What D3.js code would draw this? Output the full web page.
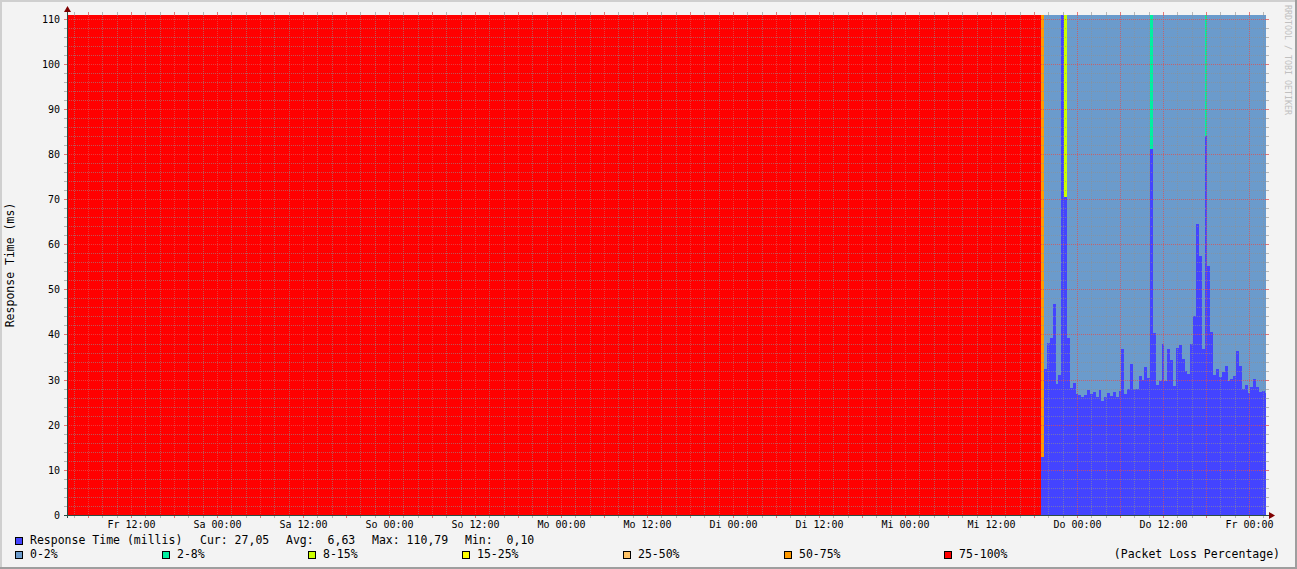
<!DOCTYPE html>
<html><head><meta charset="utf-8">
<script src="https://cdn.jsdelivr.net/npm/d3@7"></script>
<style>html,body{margin:0;padding:0;background:#f3f3f3;}svg{display:block;}text{white-space:pre;}</style>
</head><body>
<script>
// ---- data ----
const lossClasses = ["0-2%","2-8%","8-15%","15-25%","25-50%","50-75%","75-100%"];
const lossColors  = ["#6b9bcc","#00f0a0","#ccff00","#ffff00","#ffc468","#ff9900","#ff0000"];
const rttColor = "#4444ff";
// time in hours since Fr 00:00 of the first day
const outage = [{from: 3.07, to: 139.0, loss: 6}];
const firstStart = 139.0;
const stepHours = 0.4;
const rtt = [12.9,32.4,38.1,39.3,46.8,29.1,31.0,110.79,70.4,39.3,
  28.2,29.3,26.8,26.6,26.2,26.6,27.7,26.8,27.3,26.2,
  27.7,25.3,26.2,27.1,26.4,27.3,26.2,27.5,36.8,26.8,
  27.9,33.5,27.9,28.0,30.8,29.9,32.8,30.4,81.0,40.4,
  28.8,29.7,37.9,29.7,36.8,34.4,28.6,37.0,37.7,34.6,
  31.9,31.3,37.9,44.1,64.5,57.4,36.8,84.0,55.2,40.6,
  31.0,32.4,30.6,31.7,33.0,29.7,30.2,30.8,36.4,33.0,
  27.9,28.8,27.1,28.4,30.2,28.4,27.3,27.5,27.05];
const loss = rtt.map(()=>0);
const lossOverrides = [[0,5],[8,2],[38,1],[57,1]];
lossOverrides.forEach(([i,c])=>loss[i]=c);
const xTickHours = [12,24,36,48,60,72,84,96,108,120,132,144,156,168];
const xTickLabels = ["Fr 12:00","Sa 00:00","Sa 12:00","So 00:00","So 12:00","Mo 00:00","Mo 12:00",
  "Di 00:00","Di 12:00","Mi 00:00","Mi 12:00","Do 00:00","Do 12:00","Fr 00:00"];
const yTickValues = [0,10,20,30,40,50,60,70,80,90,100,110];
const statLabels = ["Cur: 27,05","Avg:  6,63","Max: 110,79","Min:  0,10"];

// ---- layout ----
const W = 1297, H = 569;
const L = 67, R = 1266, T = 15, B = 515;
const x = d3.scaleLinear().domain([3.07, 170.37]).range([L, R]);
const y = d3.scaleLinear().domain([0, 110.79]).range([B, T]);
const mono = "'DejaVu Sans Mono', monospace";

const svg = d3.select("body").append("svg").attr("width", W).attr("height", H);
svg.append("rect").attr("width", W).attr("height", H).attr("fill", "#f3f3f3");
svg.append("rect").attr("x",0).attr("y",0).attr("width",W).attr("height",2).attr("fill","#cfcfcf");
svg.append("rect").attr("x",0).attr("y",0).attr("width",2).attr("height",H).attr("fill","#cfcfcf");
svg.append("rect").attr("x",0).attr("y",H-2).attr("width",W).attr("height",2).attr("fill","#9e9e9e");
svg.append("rect").attr("x",W-2).attr("y",0).attr("width",2).attr("height",H).attr("fill","#9e9e9e");

const plot = svg.append("g").attr("shape-rendering","crispEdges");
// outage (loss only, no rtt)
plot.selectAll("rect.out").data(outage).join("rect").attr("class","out")
  .attr("x", d=>Math.round(x(d.from))).attr("width", d=>Math.round(x(d.to))-Math.round(x(d.from)))
  .attr("y", T).attr("height", B-T).attr("fill", d=>lossColors[d.loss]);

const bars = rtt.map((v,i)=>({start:firstStart+i*stepHours, end:Math.min(firstStart+(i+1)*stepHours, x.domain()[1]), v, loss:loss[i]}));
const bx0 = d=>Math.round(x(d.start)), bx1 = d=>Math.round(x(d.end));
plot.selectAll("rect.loss").data(bars).join("rect").attr("class","loss")
  .attr("x", bx0).attr("width", d=>bx1(d)-bx0(d))
  .attr("y", T).attr("height", d=>Math.max(0, Math.round(y(d.v))-T))
  .attr("fill", d=>lossColors[d.loss]);
plot.selectAll("rect.rtt").data(bars).join("rect").attr("class","rtt")
  .attr("x", bx0).attr("width", d=>bx1(d)-bx0(d))
  .attr("y", d=>Math.round(y(d.v))).attr("height", d=>B-Math.round(y(d.v)))
  .attr("fill", rttColor);

// grid
const gridC = "#8f8f8f", mgridC = "#de5050";
const g = svg.append("g").attr("shape-rendering","crispEdges");
const yMinor = d3.range(0, 111, 2).filter(v=>v%10!==0);
const xMinor = d3.range(4, 171, 2).filter(h=>h%6!==0);
const xMajor = d3.range(6, 171, 6);
function hline(v, c, op){
  const yy = Math.round(y(v))+0.5;
  g.append("line").attr("x1",L).attr("x2",R).attr("y1",yy).attr("y2",yy)
    .attr("stroke",c).attr("stroke-opacity",op).attr("stroke-dasharray","1,1");
  g.append("line").attr("x1",L-3).attr("x2",L).attr("y1",yy).attr("y2",yy).attr("stroke",c).attr("stroke-opacity",op);
  g.append("line").attr("x1",R).attr("x2",R+3).attr("y1",yy).attr("y2",yy).attr("stroke",c).attr("stroke-opacity",op);
}
function vline(h, c, op){
  const xx = Math.round(x(h))+0.5;
  g.append("line").attr("x1",xx).attr("x2",xx).attr("y1",T).attr("y2",B)
    .attr("stroke",c).attr("stroke-opacity",op).attr("stroke-dasharray","1,1");
  g.append("line").attr("x1",xx).attr("x2",xx).attr("y1",T-3).attr("y2",T).attr("stroke",c).attr("stroke-opacity",op);
  g.append("line").attr("x1",xx).attr("x2",xx).attr("y1",B).attr("y2",B+3).attr("stroke",c).attr("stroke-opacity",op);
}
yMinor.forEach(v=>hline(v, gridC, 0.6));
xMinor.forEach(h=>vline(h, gridC, 0.6));
yTickValues.filter(v=>v>0).forEach(v=>hline(v, mgridC, 0.75));
xMajor.forEach(h=>vline(h, mgridC, 0.75));

// axes lines + arrows
const axC = "#2c4d43", arC = "#7f0000";
g.append("line").attr("x1",L-3).attr("x2",R+4).attr("y1",B+0.5).attr("y2",B+0.5).attr("stroke",axC);
g.append("line").attr("x1",L+0.5).attr("x2",L+0.5).attr("y1",B+3).attr("y2",T-5).attr("stroke",axC);
svg.append("path").attr("d",`M${R+3},${B-3} L${R+9},${B+0.5} L${R+3},${B+4} Z`).attr("fill",arC);
svg.append("path").attr("d",`M${L-3},${T-3} L${L+0.5},${T-9} L${L+4},${T-3} Z`).attr("fill",arC);

// tick labels via d3 axes
const yAxis = d3.axisLeft(y).tickValues(yTickValues).tickSize(0).tickPadding(7).tickFormat(d3.format("d"));
const ya = svg.append("g").attr("transform",`translate(${L},0)`).call(yAxis);
ya.select(".domain").remove();
ya.selectAll("text").attr("font-family",mono).attr("font-size","10px").attr("fill","#000").attr("dy","0.35em");

const xAxis = d3.axisBottom(x).tickValues(xTickHours).tickSize(0).tickPadding(6)
  .tickFormat((d,i)=>xTickLabels[i]);
const xa = svg.append("g").attr("transform",`translate(0,${B})`).call(xAxis);
xa.select(".domain").remove();
xa.selectAll("text").attr("font-family",mono).attr("font-size","10px").attr("fill","#000");

// y title
svg.append("text").attr("transform","translate(14,265) rotate(-90)").attr("text-anchor","middle")
  .attr("font-family",mono).attr("font-size","11.5px").attr("fill","#000").text("Response Time (ms)");
// watermark
svg.append("text").attr("transform","translate(1285,5) rotate(90)").attr("text-anchor","start")
  .attr("font-family",mono).attr("font-size","8.3px").attr("fill","#c0c0c0").text("RRDTOOL / TOBI OETIKER");

// legend
const lg = svg.append("g").attr("font-family",mono).attr("font-size","11.5px").attr("fill","#000");
function box(xx, yy, c){
  lg.append("rect").attr("x",xx+0.5).attr("y",yy+0.5).attr("width",7).attr("height",7)
    .attr("fill",c).attr("stroke","#000").attr("shape-rendering","crispEdges");
}
box(15, 537, rttColor);
lg.append("text").attr("x",30).attr("y",544).text("Response Time (millis)");
const statX = [200, 286, 372, 465];
statLabels.forEach((s,i)=>lg.append("text").attr("x",statX[i]).attr("y",544).text(s));
const lossBoxX = [15, 162, 308, 462, 623, 784, 944];
lossClasses.forEach((c,i)=>{
  box(lossBoxX[i], 551, lossColors[i]);
  lg.append("text").attr("x",lossBoxX[i]+15).attr("y",558).text(c);
});
lg.append("text").attr("x",1280).attr("y",558).attr("text-anchor","end").text("(Packet Loss Percentage)");
</script>
</body></html>
